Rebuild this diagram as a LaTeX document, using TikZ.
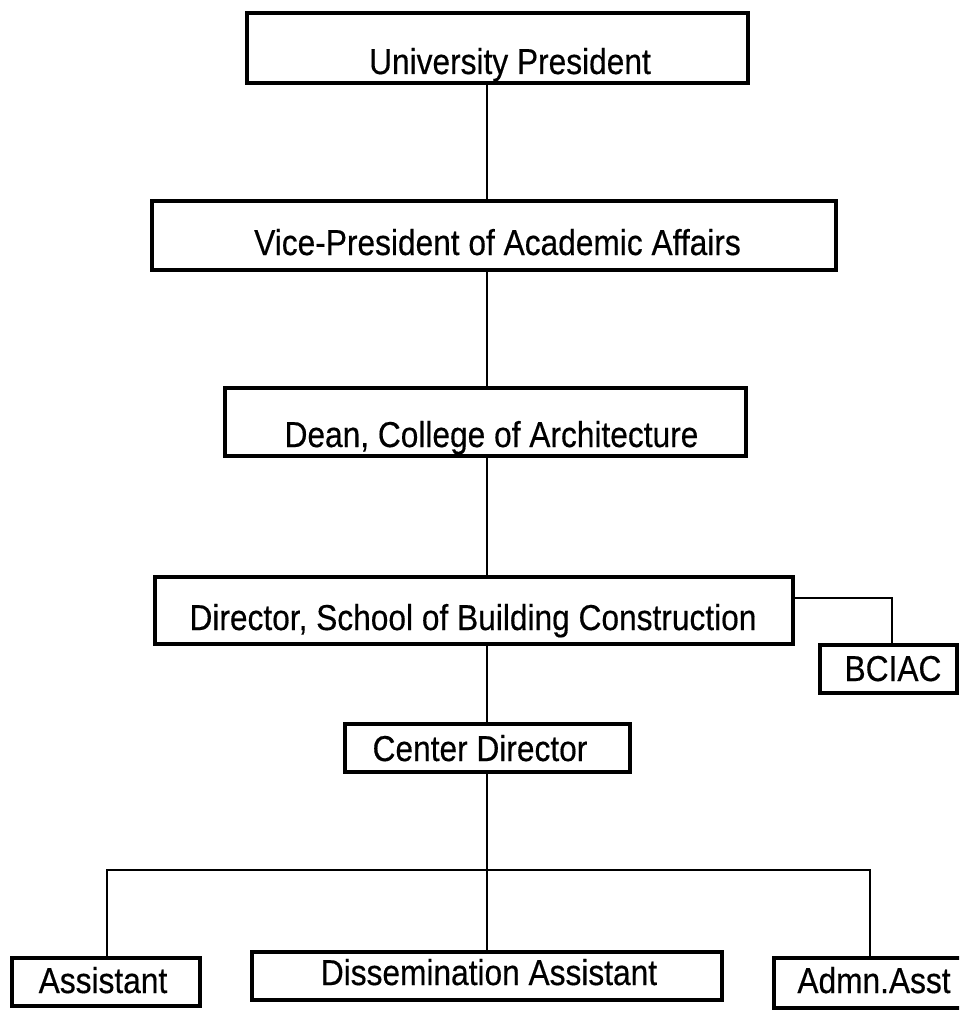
\documentclass[tikz,border=0pt]{standalone}
\usepackage{fontspec}
\setmainfont{Liberation Sans}[FakeStretch=0.88,FakeBold=0.4]
\begin{document}
\begin{tikzpicture}[x=1pt,y=-1pt,
  box/.style={draw, rectangle, line width=4.5pt, inner sep=0pt},
  lbl/.style={inner sep=0pt, anchor=base, font=\fontsize{36}{40}\selectfont},
  link/.style={line width=2.8pt}]
  \useasboundingbox (0,0) rectangle (959,1011);
  \clip (0,0) rectangle (959,1011);

  % spine of the chart and branch points
  \coordinate (spine) at (487,0);
  \coordinate (busL) at (107,870);
  \coordinate (busR) at (870,870);
  \coordinate (bcJ) at (892,598);

  % boxes
  \node[box, minimum width=501pt, minimum height=70pt] (pres) at (497.5,48) {};
  \node[box, minimum width=684pt, minimum height=69pt] (vp) at (494,235.5) {};
  \node[box, minimum width=521pt, minimum height=68pt] (dean) at (485.5,422) {};
  \node[box, minimum width=638pt, minimum height=67pt] (dir) at (474,610.5) {};
  \node[box, minimum width=137pt, minimum height=48pt] (bciac) at (888.5,669) {};
  \node[box, minimum width=285pt, minimum height=48pt] (cd) at (487.5,748) {};
  \node[box, minimum width=188pt, minimum height=48pt] (asst) at (106,982) {};
  \node[box, minimum width=470pt, minimum height=48pt] (dis) at (487,976) {};
  \node[box, minimum width=201pt, minimum height=50pt] (admn) at (874.5,983) {};

  % labels
  \node[lbl] (presT) at (510,74) {University President};
  \node[lbl] (vpT) at (497.5,255) {Vice-President of Academic Affairs};
  \node[lbl] (deanT) at (491.5,447) {Dean, College of Architecture};
  \node[lbl] (dirT) at (473,630) {Director, School of Building Construction};
  \node[lbl] (bciacT) at (893,681) {BCIAC};
  \node[lbl] (cdT) at (480,761) {Center Director};
  \node[lbl] (asstT) at (103,993) {Assistant};
  \node[lbl] (disT) at (489,985) {Dissemination Assistant};
  \node[lbl] (admnT) at (874,993) {Admn.Asst};

  % connectors
  \draw[link] (pres.south -| spine) -- (vp.north -| spine);
  \draw[link] (vp.south -| spine) -- (dean.north -| spine);
  \draw[link] (dean.south -| spine) -- (dir.north -| spine);
  \draw[link] (dir.south -| spine) -- (cd.north -| spine);
  \draw[link] (cd.south -| spine) -- (dis.north -| spine);
  \draw[link] (dir.east |- bcJ) -- (bcJ) -- (bciac.north -| bcJ);
  \draw[link] (asst.north -| busL) -- (busL) -- (busR) -- (admn.north -| busR);
\end{tikzpicture}
\end{document}
